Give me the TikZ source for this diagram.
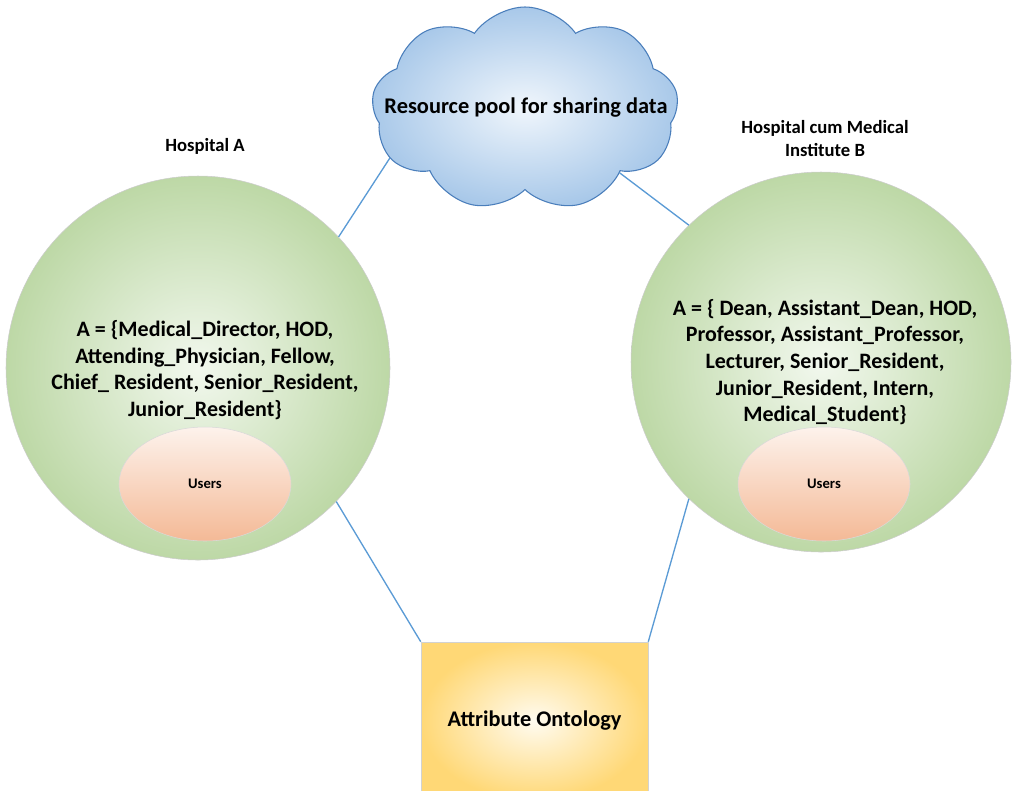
\documentclass[tikz,border=0pt]{standalone}
\usepackage{fontspec}
\setmainfont{Carlito}
\usetikzlibrary{shapes.symbols,shapes.geometric}

\definecolor{hospgreen}{RGB}{189,216,166}
\definecolor{hospcore}{RGB}{242,248,238}
\definecolor{usrpeach}{RGB}{244,185,150}
\definecolor{usrlight}{RGB}{253,242,236}
\definecolor{cloudblue}{RGB}{168,200,233}
\definecolor{cloudcore}{RGB}{240,246,252}
\definecolor{cloudedge}{RGB}{74,126,187}
\definecolor{ontogold}{RGB}{255,216,118}
\definecolor{ontocore}{RGB}{255,251,240}
\definecolor{linkblue}{RGB}{91,155,213}

\begin{document}
\begin{tikzpicture}[x=0.75pt,y=-0.75pt,
    hospital/.style={circle,draw=gray!40,inner sep=0pt,minimum size=#1,
        shading=radial,inner color=hospcore,outer color=hospgreen},
    users/.style={ellipse,draw=gray!30,minimum width=129pt,minimum height=85.5pt,
        top color=usrlight,bottom color=usrpeach,
        font=\fontsize{11}{13}\selectfont\bfseries},
    pool/.style={cloud,cloud puffs=9,cloud puff arc=110,draw=cloudedge,line width=0.8pt,
        minimum width=230pt,minimum height=153pt,
        shading=radial,inner color=cloudcore,outer color=cloudblue},
    ontology/.style={rectangle,draw=gray!35,minimum width=170.25pt,minimum height=118.5pt,
        shading=radial,inner color=ontocore,outer color=ontogold},
    title/.style={align=center,font=\fontsize{14}{17.25}\selectfont\bfseries},
    roles/.style={align=center,font=\fontsize{16.5}{20}\selectfont\bfseries},
    link/.style={draw=linkblue,line width=1pt}]

\clip (0,0) rectangle (1012,790);

% Cloud with the shared resources
\node[pool] (cloud) at (525,109) {};
\node[font=\fontsize{16.8}{19}\selectfont\bfseries] (cloudtext) at (526,108) {Resource pool for sharing data};

% The two hospitals
\node[hospital=288pt] (hospA) at (198,368) {};
\node[hospital=285pt] (hospB) at (821,362) {};

\node[title] (titleA) at (205,146) {Hospital A};
\node[title] (titleB) at (825,139) {Hospital cum Medical\\Institute B};

% Attribute sets
\node[roles] (rolesA) at (205,370) {A = \{Medical\_Director, HOD,\\Attending\_Physician, Fellow,\\Chief\_ Resident, Senior\_Resident,\\Junior\_Resident\}};
\node[roles] (rolesB) at (825,362) {A = \{ Dean, Assistant\_Dean, HOD,\\Professor, Assistant\_Professor,\\Lecturer, Senior\_Resident,\\Junior\_Resident, Intern,\\Medical\_Student\}};

% Users
\node[users] (usersA) at (205,484) {Users};
\node[users] (usersB) at (824,484) {Users};

% Ontology box
\node[ontology,font=\fontsize{16.75}{20}\selectfont\bfseries] (onto) at (534.5,721) {Attribute Ontology};

% Links
\draw[link] (cloud.200) -- (hospA.43);
\draw[link] (cloud.326) -- (hospB.134);
\draw[link] (hospA.316) -- (onto.north west);
\draw[link] (hospB.226) -- (onto.north east);
\end{tikzpicture}
\end{document}
